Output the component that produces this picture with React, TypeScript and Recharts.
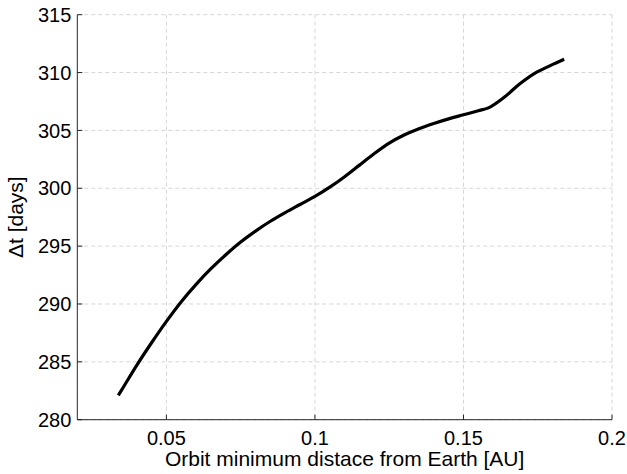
import React from 'react';
import { LineChart, Line, XAxis, YAxis, CartesianGrid } from 'recharts';

// Minimum orbit distance from Earth [AU]
const minDistanceAU = [
  0.0338, 0.035, 0.04, 0.045, 0.05, 0.055, 0.06, 0.065, 0.07, 0.075,
  0.08, 0.085, 0.09, 0.095, 0.1, 0.105, 0.11, 0.115, 0.12, 0.125,
  0.13, 0.135, 0.14, 0.145, 0.15, 0.155, 0.1584, 0.1634, 0.1691, 0.1741,
  0.1792, 0.1839,
];

// Δt [days] for each distance
const deltaTDays = [
  282.1, 282.6, 284.7, 286.65, 288.5, 290.2, 291.7, 293.05, 294.25, 295.35,
  296.3, 297.15, 297.9, 298.6, 299.3, 300.1, 301.0, 302.0, 303.0, 303.9,
  304.6, 305.15, 305.6, 306.0, 306.35, 306.7, 306.95, 307.8, 309.05, 309.95,
  310.6, 311.15,
];

const xTicks = [0.05, 0.1, 0.15, 0.2];
const yTicks = [280, 285, 290, 295, 300, 305, 310, 315];

const xLabel = 'Orbit minimum distace from Earth [AU]';
const yLabel = 'Δt [days]';

const data = minDistanceAU.map((d, i) => ({ d, dt: deltaTDays[i] }));

const W = 627;
const H = 474;
const FONT = '"Liberation Sans", Arial, Helvetica, sans-serif';
const FRAME = '#262626';
const TICK_LEN = 5;
const BOTTOM_MARGIN = 11;
const LEFT_MARGIN = 6;

const BottomTick = (props: any) => {
  const { x, y, payload } = props;
  const axisY = y - BOTTOM_MARGIN;
  return (
    <g>
      <line x1={x} x2={x} y1={axisY} y2={axisY - TICK_LEN} stroke={FRAME} strokeWidth={1} />
      <text x={x} y={y} dy="0.71em" textAnchor="middle" fontFamily={FONT} fontSize={20} fill="#000">
        {String(payload.value)}
      </text>
    </g>
  );
};

const LeftTick = (props: any) => {
  const { x, y, payload } = props;
  const axisX = x + LEFT_MARGIN;
  return (
    <g>
      <line x1={axisX} x2={axisX + TICK_LEN} y1={y} y2={y} stroke={FRAME} strokeWidth={1} />
      <text x={x} y={y} dy="0.355em" textAnchor="end" fontFamily={FONT} fontSize={20} fill="#000">
        {String(payload.value)}
      </text>
    </g>
  );
};

const TopTick = (props: any) => {
  const { x, y } = props;
  return <line x1={x} x2={x} y1={y} y2={y + TICK_LEN} stroke={FRAME} strokeWidth={1} />;
};

const RightTick = (props: any) => {
  const { x, y } = props;
  return <line x1={x} x2={x - TICK_LEN} y1={y} y2={y} stroke={FRAME} strokeWidth={1} />;
};

const XTitle = (props: any) => {
  const vb = props.viewBox || {};
  return (
    <text
      x={vb.x + vb.width / 2}
      y={vb.y + 46.5}
      textAnchor="middle"
      fontFamily={FONT}
      fontSize={21}
      fill="#000"
    >
      {xLabel}
    </text>
  );
};

const YTitle = (props: any) => {
  const vb = props.viewBox || {};
  const cx = 23;
  const cy = vb.y + vb.height / 2;
  return (
    <text
      x={cx}
      y={cy}
      transform={`rotate(-90 ${cx} ${cy})`}
      textAnchor="middle"
      fontFamily={FONT}
      fontSize={21}
      fill="#000"
    >
      {yLabel}
    </text>
  );
};

export default function App() {
  return (
    <div style={{ position: 'absolute', left: 0, top: 0, width: W, height: H, background: '#fff' }}>
      <LineChart width={W} height={H} data={data} margin={{ top: 14.7, right: 15, left: 0, bottom: 0 }}>
        <CartesianGrid
          stroke="#d6d6d6"
          strokeDasharray="4 3"
          horizontalValues={yTicks}
          verticalValues={xTicks}
        />
        <XAxis
          dataKey="d"
          type="number"
          domain={[0.02, 0.2]}
          ticks={xTicks}
          allowDataOverflow
          height={54.3}
          tickSize={0}
          tickMargin={BOTTOM_MARGIN}
          tickLine={false}
          tick={<BottomTick />}
          interval={0}
          axisLine={{ stroke: FRAME, strokeWidth: 1 }}
          label={<XTitle />}
        />
        <XAxis
          xAxisId="top"
          orientation="top"
          dataKey="d"
          type="number"
          domain={[0.02, 0.2]}
          ticks={xTicks}
          allowDataOverflow
          height={0}
          tickSize={0}
          tickMargin={0}
          tickLine={false}
          tick={<TopTick />}
          interval={0}
          axisLine={{ stroke: FRAME, strokeWidth: 1 }}
        />
        <YAxis
          dataKey="dt"
          type="number"
          domain={[280, 315]}
          ticks={yTicks}
          allowDataOverflow
          width={77.3}
          tickSize={0}
          tickMargin={LEFT_MARGIN}
          tickLine={false}
          tick={<LeftTick />}
          interval={0}
          axisLine={{ stroke: FRAME, strokeWidth: 1 }}
          label={<YTitle />}
        />
        <YAxis
          yAxisId="right"
          orientation="right"
          type="number"
          domain={[280, 315]}
          ticks={yTicks}
          allowDataOverflow
          width={0}
          tickSize={0}
          tickMargin={0}
          tickLine={false}
          tick={<RightTick />}
          interval={0}
          axisLine={{ stroke: FRAME, strokeWidth: 1 }}
        />
        <Line
          type="monotone"
          dataKey="dt"
          stroke="#000"
          strokeWidth={3.2}
          dot={false}
          activeDot={false}
          isAnimationActive={false}
        />
      </LineChart>
    </div>
  );
}
